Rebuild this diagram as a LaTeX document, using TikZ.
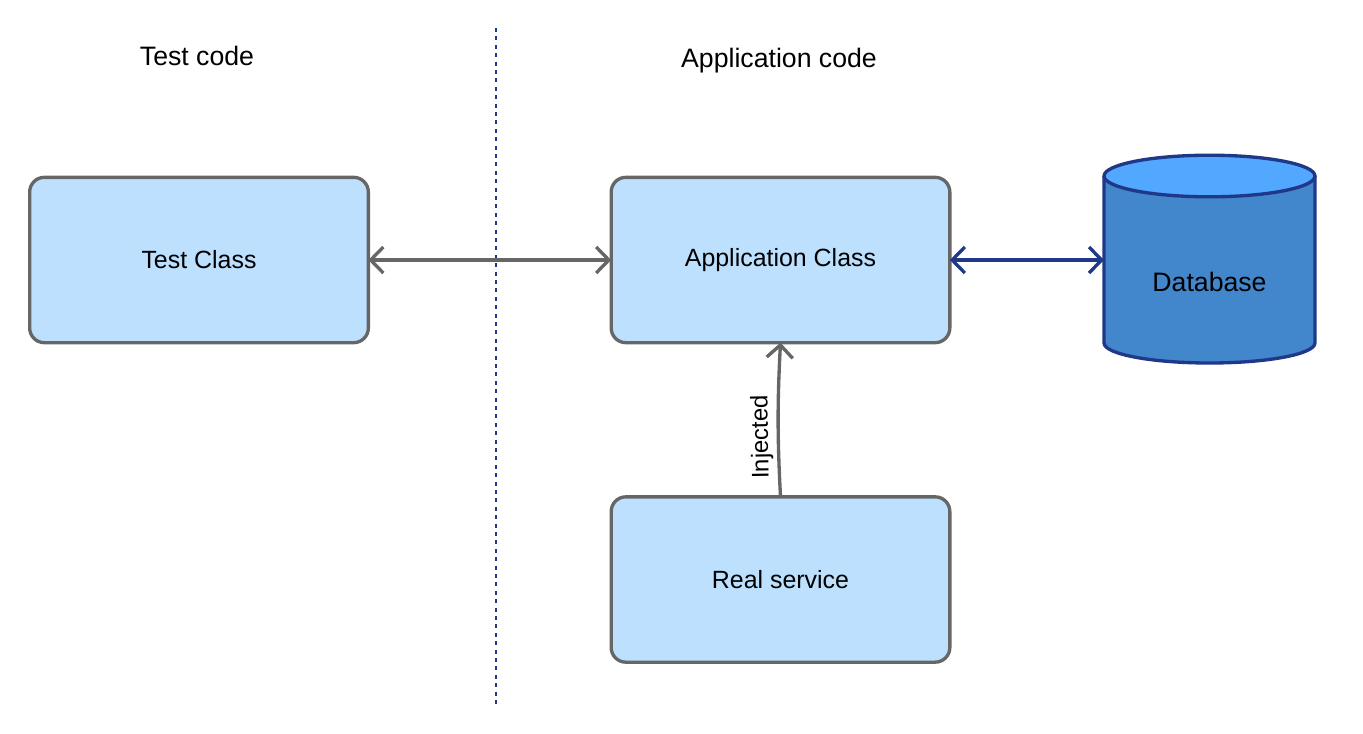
\documentclass[tikz,border=0pt]{standalone}
\usepackage{fontspec}
\setmainfont{Liberation Sans}
\usetikzlibrary{arrows.meta,positioning,calc}
\definecolor{boxfill}{RGB}{189,224,254}
\definecolor{boxline}{RGB}{102,102,102}
\definecolor{navy}{RGB}{31,56,135}
\definecolor{dbbody}{RGB}{66,134,204}
\definecolor{dbtop}{RGB}{82,167,255}

\begin{document}
\begin{tikzpicture}
[x=0.75pt,y=-0.75pt,
every node/.style={draw=none,inner sep=0pt,outer sep=0pt},
cls/.style={draw=boxline,fill=boxfill,line width=2.5pt,rounded corners=11pt,
  minimum width=254pt,minimum height=124pt,font=\fontsize{18.7}{22}\selectfont},
title/.style={font=\fontsize{20}{24}\selectfont},
edge/.style={{Straight Barb[length=9.5pt,width=19.5pt]}-{Straight Barb[length=9.5pt,width=19.5pt]},
  line width=2.5pt,draw=boxline},
dbedge/.style={edge,draw=navy},
divider/.style={draw=navy,line width=1.7pt,dash pattern=on 3pt off 3.3pt}]
%%
\useasboundingbox (0,0) rectangle (1363,733);
%%
\node[title] (testcode) at (197,56) {Test code};
\node[title] (appcode) at (779,61) {Application code};
\draw[divider] (496,28) -- (496,708);
%%
\node[cls] (tc) at (199,260) {Test Class};
\node[cls] (app) at (780.5,260) {Application Class};
\node[cls] (rs) at (780.5,579.5) {Real service};
%%
%% database
\fill[dbbody] (1104,176) -- (1104,343)
  arc[start angle=180,end angle=360,x radius=79.1pt,y radius=15pt] -- (1315,176) -- cycle;
\draw[navy,line width=2.5pt] (1104,176) -- (1104,343)
  arc[start angle=180,end angle=360,x radius=79.1pt,y radius=15pt] -- (1315,176);
\draw[navy,line width=2.5pt,fill=dbtop] (1209.5,176) ellipse[x radius=79.1pt,y radius=15.6pt];
\node[font=\fontsize{20}{24}\selectfont,minimum width=158.25pt] (db) at (1209.5,282) {Database};
%%
\draw[edge] (tc.east) -- (app.west);
\draw[dbedge] (app.east) -- (app.east -| db.west);
\draw[edge,-{Straight Barb[length=9.5pt,width=19.5pt]}] (rs.north) to[bend left=3]
  node[pos=0.38,sloped,allow upside down,above=4pt,font=\fontsize{18}{21}\selectfont] (inj) {Injected} (app.south);
\end{tikzpicture}
\end{document}
